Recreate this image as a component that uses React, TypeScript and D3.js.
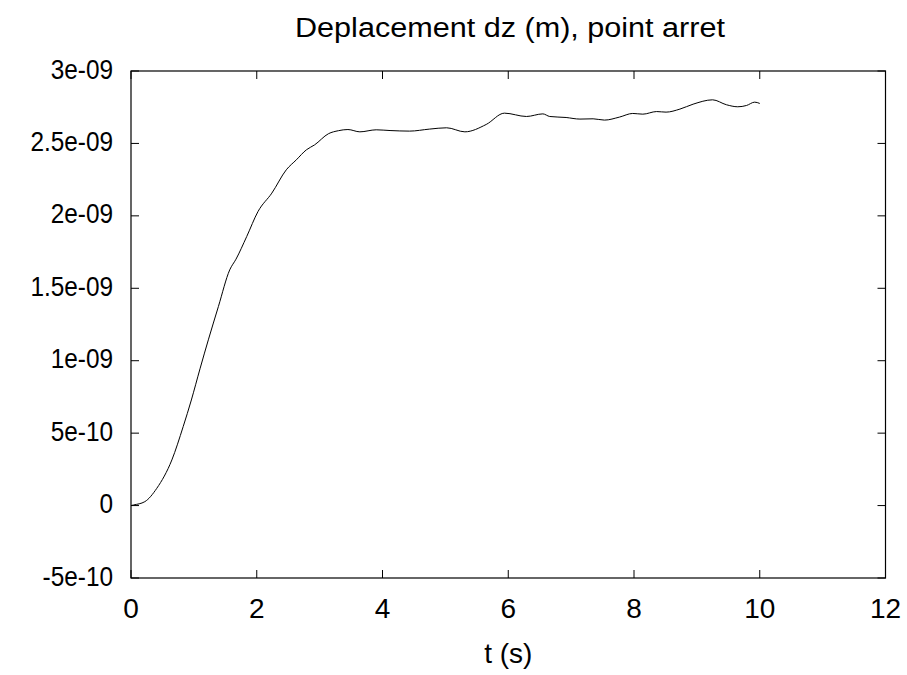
import React from "react";
import * as d3 from "d3";

const tValues = [0, 0.04, 0.22, 0.41, 0.65, 0.83, 0.96, 1.1, 1.23, 1.39, 1.57, 1.67, 1.84, 2.02, 2.24, 2.47, 2.63, 2.79, 2.92, 3.14, 3.3, 3.45, 3.64, 3.9, 4.12, 4.43, 4.75, 5.02, 5.31, 5.65, 5.94, 6.29, 6.55, 6.66, 6.92, 7.14, 7.35, 7.53, 7.77, 7.98, 8.14, 8.36, 8.51, 8.73, 8.94, 9.25, 9.47, 9.65, 9.79, 9.92, 10.0];
const dzValues = [0, 0.004, 0.027, 0.119, 0.315, 0.545, 0.729, 0.948, 1.144, 1.374, 1.627, 1.701, 1.857, 2.03, 2.157, 2.318, 2.387, 2.456, 2.49, 2.567, 2.588, 2.596, 2.58, 2.594, 2.589, 2.585, 2.599, 2.608, 2.58, 2.631, 2.709, 2.686, 2.704, 2.686, 2.679, 2.668, 2.67, 2.661, 2.682, 2.707, 2.702, 2.72, 2.716, 2.737, 2.771, 2.801, 2.767, 2.753, 2.762, 2.785, 2.776].map((v) => v * 1e-9);

const xTicks = [0, 2, 4, 6, 8, 10, 12];
const yTicks = [-5e-10, 0, 5e-10, 1e-9, 1.5e-9, 2e-9, 2.5e-9, 3e-9];
const yTickLabels = ["-5e-10", "0", "5e-10", "1e-09", "1.5e-09", "2e-09", "2.5e-09", "3e-09"];
const title = "Deplacement dz (m), point arret";
const xLabel = "t (s)";

export default function App() {
  const W = 907, H = 675;
  const left = 131, right = 885.5, top = 71, bottom = 578;
  const x = d3.scaleLinear().domain([0, 12]).range([left, right]);
  const y = d3.scaleLinear().domain([-5e-10, 3e-9]).range([bottom, top]);
  const data = tValues.map((t, i) => [t, dzValues[i]] as [number, number]);
  const line = d3.line<[number, number]>().x((d) => x(d[0])).y((d) => y(d[1])).curve(d3.curveMonotoneX);
  const font = "'Liberation Sans', Arial, sans-serif";
  const tl = 8;
  const fs = 28;
  return (
    <svg width={W} height={H} style={{ position: "absolute", left: 0, top: 0, background: "#fff" }} fontFamily={font}>
      <rect x={0} y={0} width={W} height={H} fill="#fff" />
      <text x={295} y={37} fontSize={27} textLength={430} lengthAdjust="spacingAndGlyphs">{title}</text>
      {xTicks.map((t) => (
        <g key={"x" + t}>
          <line x1={x(t)} x2={x(t)} y1={bottom} y2={bottom - tl} stroke="#000" />
          <line x1={x(t)} x2={x(t)} y1={top} y2={top + tl} stroke="#000" />
          <text x={x(t)} y={618} textAnchor="middle" fontSize={fs}>{t}</text>
        </g>
      ))}
      {yTicks.map((v, i) => (
        <g key={"y" + i}>
          <line x1={left} x2={left + tl} y1={y(v)} y2={y(v)} stroke="#000" />
          <line x1={right} x2={right - tl} y1={y(v)} y2={y(v)} stroke="#000" />
          <text transform={`translate(113,${y(v) + 7.5}) scale(0.87,1)`} textAnchor="end" fontSize={fs}>{yTickLabels[i]}</text>
        </g>
      ))}
      <rect x={left} y={top} width={right - left} height={bottom - top} fill="none" stroke="#000" strokeWidth={1.2} />
      <path d={line(data) || ""} fill="none" stroke="#000" strokeWidth={1} />
      <text x={(left + right) / 2} y={663} textAnchor="middle" fontSize={fs}>{xLabel}</text>
    </svg>
  );
}
